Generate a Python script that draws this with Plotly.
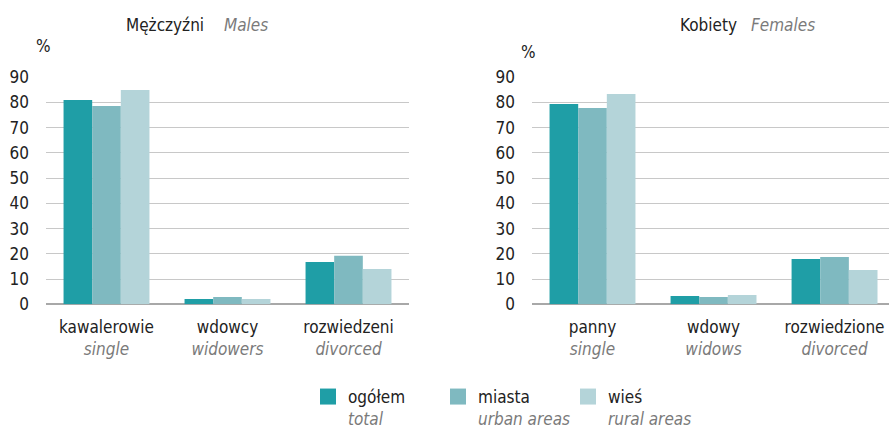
import plotly.graph_objects as go

# ---- data ----
series_pl = ["ogółem", "miasta", "wieś"]
series_en = ["total", "urban areas", "rural areas"]
colors = ["#1f9ea6", "#7fb9c0", "#b4d4d9"]

male_cats_pl = ["kawalerowie", "wdowcy", "rozwiedzeni"]
male_cats_en = ["single", "widowers", "divorced"]
male_total = [81.0, 2.1, 16.8]
male_urban = [78.6, 2.9, 19.2]
male_rural = [85.0, 2.1, 14.0]

female_cats_pl = ["panny", "wdowy", "rozwiedzione"]
female_cats_en = ["single", "widows", "divorced"]
female_total = [79.4, 3.3, 18.0]
female_urban = [77.8, 2.9, 18.8]
female_rural = [83.4, 3.7, 13.6]

y_ticks = [0, 10, 20, 30, 40, 50, 60, 70, 80, 90]

FONT = "DejaVu Sans Condensed, Liberation Sans Narrow, sans-serif"
FS = 17
GRAY = "#7a7a7a"
W, H = 889, 429

fig = go.Figure()

male_vals = [male_total, male_urban, male_rural]
female_vals = [female_total, female_urban, female_rural]

for i in range(3):
    fig.add_trace(go.Bar(x=male_cats_pl, y=male_vals[i], marker_color=colors[i],
                         marker_line_width=0, showlegend=False,
                         xaxis="x", yaxis="y", name=series_pl[i]))
for i in range(3):
    fig.add_trace(go.Bar(x=female_cats_pl, y=female_vals[i], marker_color=colors[i],
                         marker_line_width=0, showlegend=False,
                         xaxis="x2", yaxis="y2", name=series_pl[i]))
# legend proxies
for i in range(3):
    fig.add_trace(go.Scatter(x=[None], y=[None], mode="markers",
                             marker=dict(symbol="square", size=16, color=colors[i]),
                             name=f"{series_pl[i]}<br><span style='color:{GRAY}'><i>{series_en[i]}</i></span>",
                             showlegend=True, xaxis="x", yaxis="y"))

def ticktexts(pl, en):
    return [f"{a}<br><span style='color:{GRAY}'><i>{b}</i></span>" for a, b in zip(pl, en)]

ybot = 1 - 304.3 / H
ytop = 1 - 77.3 / H

yax = dict(range=[0, 90], tickvals=y_ticks, showgrid=True, gridcolor="#c8c8c8", gridwidth=1.3,
           zeroline=True, zerolinecolor="#a8a8a8", zerolinewidth=1.5,
           tickfont=dict(family=FONT, size=FS, color="#222"), ticks="",
           ticklabelstandoff=16, fixedrange=True, automargin=False)

xtick = dict(showgrid=False, ticks="", tickfont=dict(family=FONT, size=FS, color="#222"),
             ticklabelstandoff=11, automargin=False, fixedrange=True)

fig.update_layout(
    width=W, height=H,
    margin=dict(l=0, r=0, t=0, b=0, autoexpand=False),
    paper_bgcolor="white", plot_bgcolor="white",
    barmode="group", bargap=0.29, bargroupgap=0,
    font=dict(family=FONT, size=FS, color="#222"),
    xaxis=dict(domain=[46 / W, 409 / W], range=[-0.5, 2.5], tickvals=male_cats_pl,
               ticktext=ticktexts(male_cats_pl, male_cats_en), anchor="y", **xtick),
    yaxis=dict(domain=[ybot, ytop], anchor="x", **yax),
    xaxis2=dict(domain=[532 / W, 1.0], range=[-0.5, 2.45], tickvals=female_cats_pl,
                ticktext=ticktexts(female_cats_pl, female_cats_en), anchor="y2", **xtick),
    yaxis2=dict(domain=[ybot, ytop], anchor="x2", **yax),
    legend=dict(orientation="h", x=308 / W, xanchor="left", y=1 - 379 / H, yanchor="top",
                font=dict(family=FONT, size=FS, color="#222"), valign="top",
                entrywidth=85, itemclick=False, bgcolor="rgba(0,0,0,0)"),
)

ann = [
    dict(text="Mężczyźni", x=124 / W, y=1 - 25 / H, xanchor="left", font=dict(color="#222")),
    dict(text="<i>Males</i>", x=222 / W, y=1 - 25 / H, xanchor="left", font=dict(color=GRAY)),
    dict(text="Kobiety", x=678 / W, y=1 - 25 / H, xanchor="left", font=dict(color="#222")),
    dict(text="<i>Females</i>", x=749 / W, y=1 - 25 / H, xanchor="left", font=dict(color=GRAY)),
    dict(text="%", x=43 / W, y=1 - 46 / H, xanchor="center", font=dict(color="#222")),
    dict(text="%", x=528 / W, y=1 - 52 / H, xanchor="center", font=dict(color="#222")),
]
for a in ann:
    fig.add_annotation(xref="paper", yref="paper", yanchor="middle", showarrow=False,
                       font_family=FONT, font_size=FS, **a)

fig.write_html("out.html", config={"displayModeBar": False},
               post_script="document.body.style.margin='0';document.body.style.overflow='hidden';")
